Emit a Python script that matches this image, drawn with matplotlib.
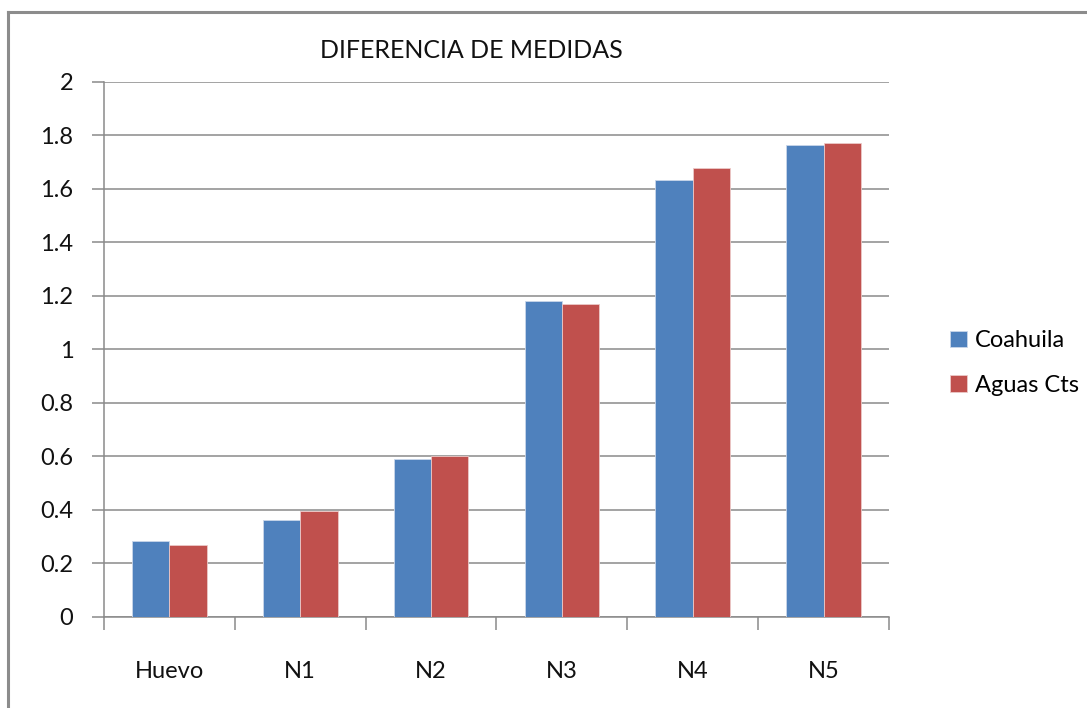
import numpy as np
import matplotlib
matplotlib.use("Agg")
from matplotlib import pyplot as plt
from matplotlib.lines import Line2D

categorias = ["Huevo", "N1", "N2", "N3", "N4", "N5"]
coahuila = [0.281, 0.362, 0.589, 1.179, 1.634, 1.763]
aguas_cts = [0.267, 0.396, 0.600, 1.170, 1.677, 1.773]
series = ["Coahuila", "Aguas Cts"]
yticks = [0, 0.2, 0.4, 0.6, 0.8, 1, 1.2, 1.4, 1.6, 1.8, 2]
ytick_labels = ["0", "0.2", "0.4", "0.6", "0.8", "1", "1.2", "1.4", "1.6", "1.8", "2"]

plt.rcParams['font.family'] = ['Lato', 'DejaVu Sans']

W, H = 1087, 708
fig = plt.figure(figsize=(W / 100, H / 100), dpi=100)
ax = fig.add_axes([104 / W, 1 - 616.5 / H, (889 - 104) / W, (616.5 - 82) / H])

x = np.arange(len(categorias))
ancho = 1 / 3.5  # gap 150%
ax.bar(x - ancho / 2, coahuila, ancho, color="#4F81BD", edgecolor="#c9d6ea",
       linewidth=0.6, label=series[0], zorder=3)
ax.bar(x + ancho / 2, aguas_cts, ancho, color="#C0504D", edgecolor="#ecc9c8",
       linewidth=0.6, label=series[1], zorder=3)

ax.set_xlim(-0.5, len(categorias) - 0.5)
ax.set_ylim(0, 2)
ax.set_yticks(yticks)
ax.set_yticklabels(ytick_labels)
ax.yaxis.grid(True, color="#8a8a8a", linewidth=1.1, zorder=0)

ax.set_xticks(x)
ax.set_xticklabels(categorias)
ax.set_xticks(np.arange(len(categorias) + 1) - 0.5, minor=True)
ax.tick_params(axis="x", which="major", length=0, pad=32, labelsize=17, colors="#111111")
ax.tick_params(axis="x", which="minor", length=9, width=1.1, color="#8a8a8a")
ax.tick_params(axis="y", length=9, width=1.1, color="#8a8a8a", pad=13,
               labelsize=17, labelcolor="#111111")

for lado in ["top", "right"]:
    ax.spines[lado].set_visible(False)
ax.spines["left"].set_color("#8a8a8a")
ax.spines["bottom"].set_color("#8a8a8a")
ax.spines["left"].set_linewidth(1.1)
ax.spines["bottom"].set_linewidth(1.1)

fig.text(471 / W, 1 - 50 / H, "DIFERENCIA DE MEDIDAS", ha="center", va="center",
         fontsize=18, color="#111111")

ax.legend(loc="center left", bbox_to_anchor=(929 / W, 1 - 363 / H),
          bbox_transform=fig.transFigure, frameon=False, fontsize=17,
          handlelength=0.7, handleheight=0.7, handletextpad=0.35, labelspacing=1.0)

# marco del grafico (solo se ven arriba e izquierda)
fig.add_artist(Line2D([8 / W, 8 / W], [0, 1 - 12 / H], color="#8c8c8c", linewidth=2.2))
fig.add_artist(Line2D([8 / W, 1], [1 - 12 / H, 1 - 12 / H], color="#8c8c8c", linewidth=2.2))

fig.savefig("out.png", dpi=100)
